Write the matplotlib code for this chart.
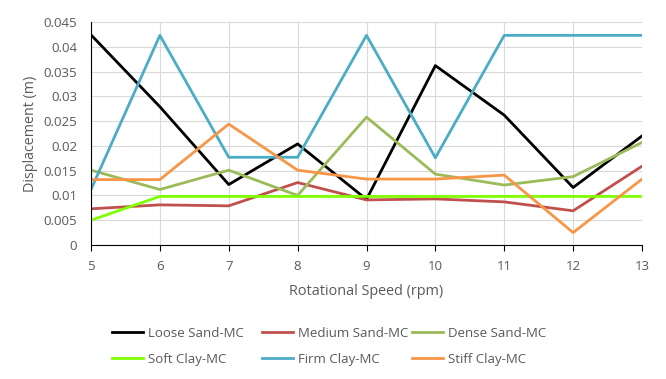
import matplotlib
matplotlib.use("Agg")
import matplotlib.pyplot as plt
from matplotlib.ticker import MultipleLocator, FuncFormatter

speed = [5, 6, 7, 8, 9, 10, 11, 12, 13]
loose_sand = [0.0424, 0.0279, 0.0122, 0.0204, 0.0092, 0.0362, 0.0262, 0.0116, 0.0220]
medium_sand = [0.0073, 0.0081, 0.0079, 0.0126, 0.0091, 0.0093, 0.0087, 0.0069, 0.0159]
dense_sand = [0.0151, 0.0112, 0.0151, 0.0100, 0.0258, 0.0143, 0.0121, 0.0138, 0.0207]
soft_clay = [0.0050, 0.0098, 0.0098, 0.0098, 0.0098, 0.0098, 0.0098, 0.0098, 0.0098]
firm_clay = [0.0112, 0.0423, 0.0177, 0.0177, 0.0423, 0.0176, 0.0423, 0.0423, 0.0423]
stiff_clay = [0.0132, 0.0132, 0.0244, 0.0151, 0.0133, 0.0133, 0.0141, 0.0025, 0.0133]

series = [
    ("Loose Sand-MC", loose_sand, "#000000"),
    ("Medium Sand-MC", medium_sand, "#C0504D"),
    ("Dense Sand-MC", dense_sand, "#9BBB59"),
    ("Soft Clay-MC", soft_clay, "#7FFF00"),
    ("Firm Clay-MC", firm_clay, "#4BACC6"),
    ("Stiff Clay-MC", stiff_clay, "#F79646"),
]

plt.rcParams['font.family'] = ['Open Sans', 'DejaVu Sans']
txt = "#595959"

fig = plt.figure(figsize=(6.66, 3.79), dpi=100)
ax = fig.add_axes([91/666, 1-245/379, (642-91)/666, (245-22)/379])

lines = []
for name, vals, c in series:
    ln, = ax.plot(speed, vals, color=c, lw=2.0, label=name)
    lines.append(ln)

ax.set_xlim(5, 13)
ax.set_ylim(0, 0.045)
ax.xaxis.set_major_locator(MultipleLocator(1))
ax.yaxis.set_major_locator(MultipleLocator(0.005))
ax.yaxis.set_major_formatter(FuncFormatter(lambda v, p: "0" if abs(v) < 1e-12 else f"{v:.3f}".rstrip("0")))
ax.grid(True, color="#D9D9D9", lw=0.8)
ax.set_axisbelow(True)
for s in ["top", "right"]:
    ax.spines[s].set_visible(False)
ax.spines["left"].set_color("#000000")
ax.spines["bottom"].set_color("#000000")
ax.tick_params(axis="y", length=0, labelsize=9.5, labelcolor=txt, pad=10)
ax.tick_params(axis="x", length=4, direction="out", labelsize=9.5, labelcolor=txt, color="#000000", pad=7)
ax.set_xlabel("Rotational Speed (rpm)", fontsize=10.4, color=txt, labelpad=8)
ax.set_ylabel("Displacement (m)", fontsize=10.3, color=txt, labelpad=4)

xs = [112, 262, 412]
for i, x in enumerate(xs):
    hs = [lines[i], lines[i + 3]]
    fig.legend(hs, [h.get_label() for h in hs], loc="upper left",
               bbox_to_anchor=(x / 666, 1 - 327 / 379), ncol=1, frameon=False,
               fontsize=9.5, labelcolor=txt, handlelength=2.35, handletextpad=0.38,
               labelspacing=0.98, borderpad=0, borderaxespad=0)

fig.savefig("out.png", dpi=100)
